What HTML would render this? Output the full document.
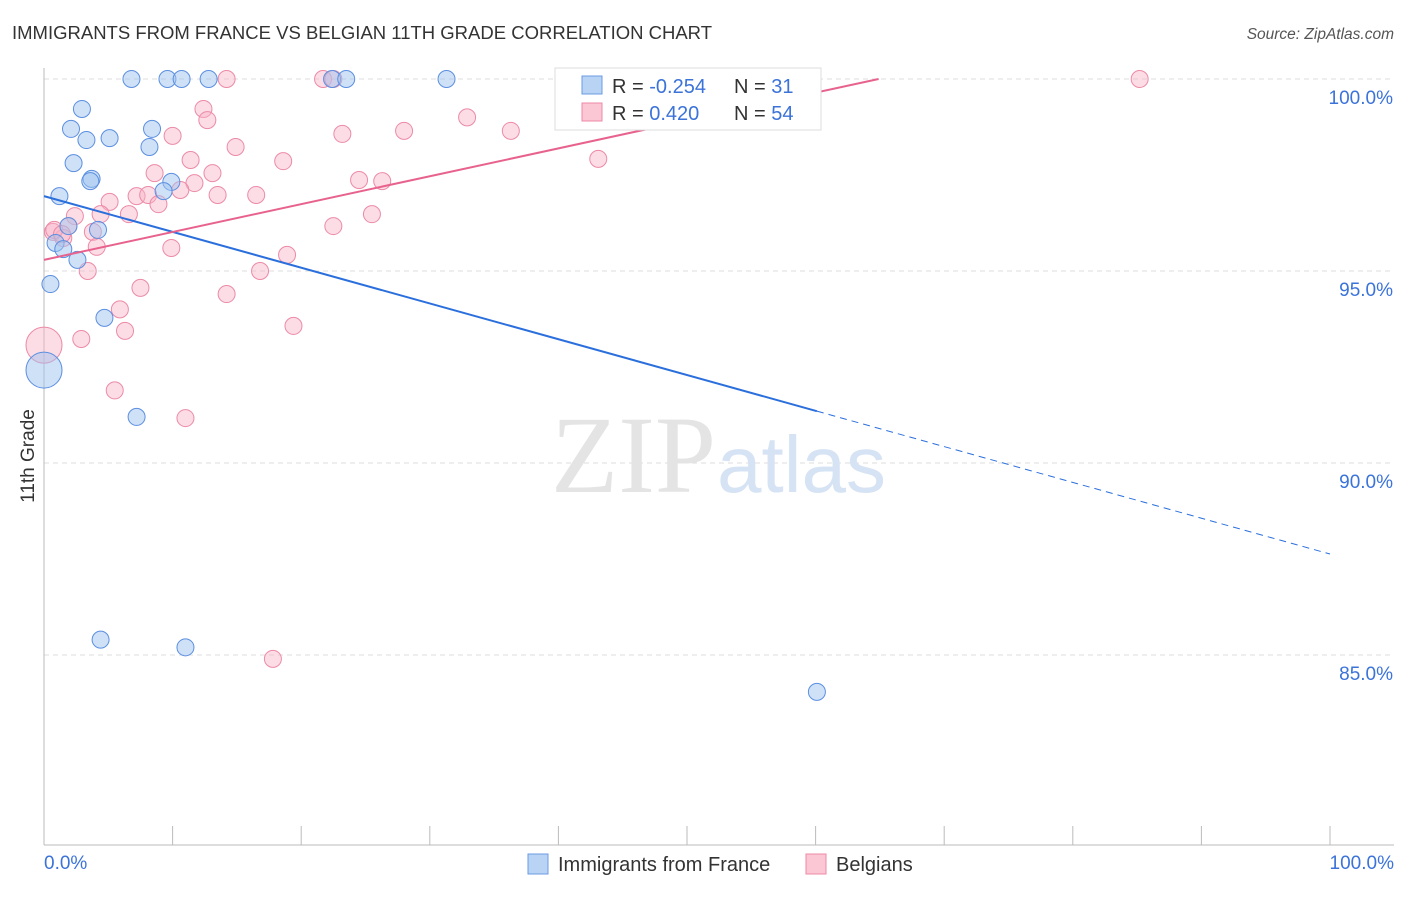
<!DOCTYPE html>
<html><head><meta charset="utf-8"><style>
body{margin:0;background:#fff;font-family:"Liberation Sans",sans-serif;}
</style></head><body>
<svg width="1406" height="892" xmlns="http://www.w3.org/2000/svg" id="svg">
<text x="12" y="39" font-size="18.5" fill="#333">IMMIGRANTS FROM FRANCE VS BELGIAN 11TH GRADE CORRELATION CHART</text>
<text x="1394" y="39" font-size="15.5" fill="#555" font-style="italic" text-anchor="end">Source: ZipAtlas.com</text>
<g id="grid"></g>
<text x="716" y="492" font-size="110" fill="#e4e4e4" font-family="Liberation Serif,serif" text-anchor="end">ZIP</text>
<text x="717" y="492" font-size="80" fill="#d6e3f4">atlas</text>
<line x1="44" y1="68" x2="44" y2="845" stroke="#bbb"/>
<line x1="44" y1="845" x2="1394" y2="845" stroke="#bbb"/>
<g id="ticks"></g>
<g id="ylabels"></g>
<text x="44" y="869" font-size="19" fill="#3b73d9">0.0%</text>
<text x="1394" y="869" font-size="19" fill="#3b73d9" text-anchor="end">100.0%</text>
<text transform="translate(34,456) rotate(-90)" font-size="19" fill="#333" text-anchor="middle">11th Grade</text>
<g id="pts"></g>
<g id="lines"></g>
<g>
<rect x="555" y="68" width="266" height="62" fill="#fff" stroke="#ddd"/>
<rect x="582" y="76" width="20" height="18" fill="#b9d3f5" stroke="#6a9be0"/>
<rect x="582" y="103" width="20" height="18" fill="#fbc7d5" stroke="#ec8aa7"/>
<text x="612" y="93" font-size="20" fill="#333">R = <tspan fill="#3b73d9">-0.254</tspan></text>
<text x="734" y="93" font-size="20" fill="#333">N = <tspan fill="#3b73d9"> 31</tspan></text>
<text x="612" y="120" font-size="20" fill="#333">R = <tspan fill="#3b73d9"> 0.420</tspan></text>
<text x="734" y="120" font-size="20" fill="#333">N = <tspan fill="#3b73d9">54</tspan></text>
</g>
<g>
<rect x="528" y="854" width="20" height="20" fill="#b9d3f5" stroke="#6a9be0"/>
<text x="558" y="871" font-size="20" fill="#333">Immigrants from France</text>
<rect x="806" y="854" width="20" height="20" fill="#fbc7d5" stroke="#ec8aa7"/>
<text x="836" y="871" font-size="20" fill="#333">Belgians</text>
</g>
</svg>
<script>
const yTicks=[100,95,90,85];
const yTickLabels=["100.0%","95.0%","90.0%","85.0%"];
const xTicks=[0,10,20,30,40,50,60,70,80,90,100];
const franceX=[6.8,9.6,10.7,12.8,22.4,23.5,31.3,2.95,2.1,8.4,5.1,3.3,8.2,2.3,3.7,3.6,9.9,9.3,1.2,4.2,1.9,0.9,1.5,2.6,0.5,4.7,0,7.2,4.4,11.0,60.1];
const franceY=[100,100,100,100,100,100,100,99.22,98.7,98.7,98.46,98.41,98.23,97.81,97.4,97.34,97.32,97.08,96.95,96.07,96.17,95.73,95.57,95.29,94.66,93.78,92.42,91.2,85.4,85.2,84.04];
const franceR=[8,8,8,8,8,8,8,8,8,8,8,8,8,8,8,8,8,8,8,8,8,8,8,8,8,8,18,8,8,8,8];
const belX=[14.2,21.7,22.5,52.2,85.2,12.4,12.7,32.9,10.0,23.2,28.0,36.3,14.9,11.4,18.6,43.1,8.6,13.1,24.5,26.3,11.7,10.6,7.2,8.1,13.5,16.5,5.1,8.9,6.6,25.5,4.4,2.4,22.5,1.9,0.7,1.5,3.8,4.1,9.9,18.9,3.4,16.8,7.5,14.2,5.9,19.4,6.3,2.9,0,5.5,11.0,17.8,0.8,1.4];
const belY=[100,100,100,100,100,99.22,98.93,99.0,98.52,98.57,98.65,98.65,98.23,97.89,97.86,97.92,97.55,97.55,97.37,97.34,97.29,97.11,96.95,96.98,96.98,96.98,96.8,96.74,96.48,96.48,96.48,96.43,96.17,96.17,96.02,95.86,96.02,95.63,95.6,95.42,95.0,95.0,94.56,94.4,94.0,93.57,93.44,93.23,93.07,91.89,91.17,84.9,96.07,95.96];
function sx(v){return 44+v*12.86;}
function sy(v){return 79+(100-v)*38.4;}
const NS="http://www.w3.org/2000/svg";
function mk(t,a,p){const e=document.createElementNS(NS,t);for(const k in a)e.setAttribute(k,a[k]);p.appendChild(e);return e;}
const grid=document.getElementById('grid'),yl=document.getElementById('ylabels'),tk=document.getElementById('ticks');
yTicks.forEach((v,i)=>{
 const l=mk('line',{x1:44,x2:1394,y1:sy(v),y2:sy(v),stroke:'#ddd','stroke-dasharray':'5,4'},grid);
 
 
 const t=mk('text',{x:1393,y:sy(v)+25,'font-size':19,fill:'#3b73d9','text-anchor':'end'},yl);
 t.textContent=yTickLabels[i];
 
 
});
xTicks.forEach(v=>{
 const l=mk('line',{x1:sx(v),x2:sx(v),y1:826,y2:845,stroke:'#bbb'},tk);
 
 
});
const pts=document.getElementById('pts');
belX.forEach((x,i)=>{
 const c=mk('circle',{cx:sx(x),cy:sy(belY[i]),r:x===0?18:8.5,fill:'rgba(248,180,200,0.45)',stroke:'#ec8aa7','stroke-width':1},pts);
 
 
});
franceX.forEach((x,i)=>{
 const c=mk('circle',{cx:sx(x),cy:sy(franceY[i]),r:franceR[i]===18?18:8.5,fill:'rgba(160,195,240,0.5)',stroke:'#5b8fe0','stroke-width':1},pts);
 
 
});
const ln=document.getElementById('lines');
let a=mk('line',{x1:sx(0),y1:sy(96.95),x2:sx(60.1),y2:sy(91.35),stroke:'#2b6fdc','stroke-width':2},ln);


a=mk('line',{x1:sx(60.1),y1:sy(91.35),x2:sx(100),y2:sy(87.63),stroke:'#2b6fdc','stroke-width':1,'stroke-dasharray':'7,5'},ln);


a=mk('line',{x1:sx(0),y1:sy(95.29),x2:sx(64.9),y2:sy(100),stroke:'#e8628e','stroke-width':2},ln);


</script>
</body></html>
